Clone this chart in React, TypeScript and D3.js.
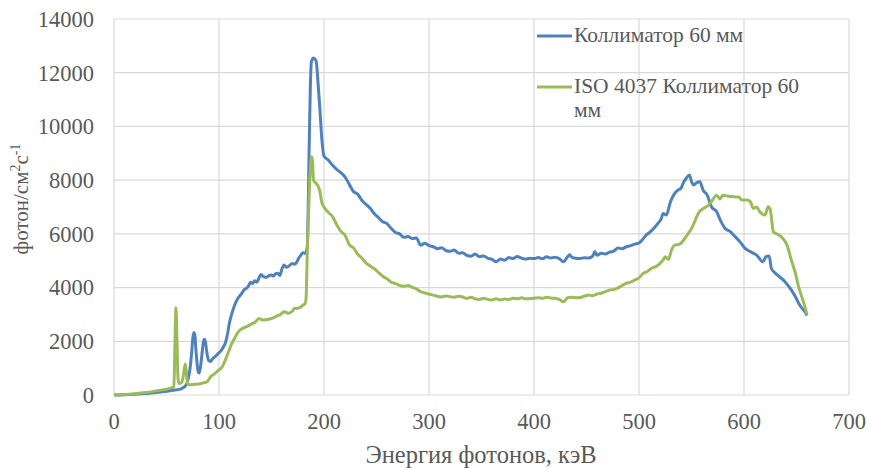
import React, { useEffect, useRef } from 'react';
import * as d3 from 'd3';

// Коллиматор 60 мм (blue)
const blueEnergy = [
  0, 10, 20, 30, 40, 46, 50, 54, 58, 62, 64, 66, 68, 70, 72, 74, 75, 76, 77, 78, 80, 81, 82, 84, 85, 86, 87, 88, 90, 92, 94, 96, 98,
  100, 102, 104, 106, 108, 110, 112, 114, 116, 118, 120, 122, 124, 126, 128, 130, 132, 134, 136, 138, 140, 142, 144, 146, 148,
  150, 152, 154, 156, 158, 160, 162, 164, 166, 168, 170, 172, 174, 176, 178, 180, 182, 184, 186, 187, 188, 190, 192, 193, 194,
  196, 198, 200, 204, 208, 212, 216, 220, 224, 228, 232, 236, 240, 244, 248, 252, 256, 260, 264, 268, 272, 276, 280, 284, 288,
  292, 296, 300, 304, 308, 312, 316, 320, 324, 328, 332, 336, 340, 344, 348, 352, 356, 360, 364, 368, 372, 376, 380, 384, 388,
  392, 396, 400, 404, 408, 412, 416, 420, 424, 428, 432, 434, 436, 440, 444, 448, 452, 456, 458, 460, 464, 468, 472, 476, 480,
  484, 488, 492, 496, 500, 503, 507, 510, 514, 518, 521, 523, 526, 530, 534, 537, 540, 542, 545, 548, 550, 552, 555, 558, 561,
  565, 569, 574, 577, 582, 587, 590, 596, 601, 606, 612, 618, 621, 624, 626, 630, 634, 639, 644, 649, 653, 658, 660,
];
const blueFlux = [
  0, 10, 30, 60, 90, 120, 140, 165, 185, 210, 230, 280, 340, 500, 870, 1600, 2100, 2330, 2250, 1700, 900, 820, 950, 1600, 1950, 2080, 2000, 1700, 1300, 1250, 1350, 1420, 1490,
  1580, 1650, 1780, 1930, 2250, 2700, 3000, 3250, 3450, 3600, 3700, 3800, 3920, 3970, 4050, 4200, 4150, 4250, 4200, 4350, 4490, 4420, 4380, 4400, 4450,
  4470, 4430, 4520, 4530, 4450, 4700, 4840, 4760, 4780, 4850, 4900, 4870, 4950, 5100, 5210, 5300, 5270, 5500, 9500, 11500, 12400, 12550, 12480, 12300, 11800,
  10700, 9500, 8900, 8750, 8560, 8400, 8280, 8120, 7850, 7580, 7480, 7250, 7100, 6950, 6750, 6600, 6450, 6380, 6200, 6050, 6000, 5870, 5900, 5830, 5850,
  5580, 5650, 5560, 5520, 5450, 5480, 5380, 5350, 5400, 5280, 5300, 5200, 5170, 5250, 5150, 5180, 5090, 5050, 4960, 5060, 5020, 5120, 5080, 5160, 5100,
  5060, 5090, 5080, 5120, 5070, 5150, 5100, 5130, 5080, 4960, 5150, 5220, 5130, 5090, 5080, 5110, 5100, 5180, 5340, 5200, 5280, 5250, 5320, 5360, 5470,
  5450, 5520, 5560, 5620, 5660, 5770, 5960, 6050, 6200, 6390, 6550, 6760, 6700, 7200, 7510, 7630, 7700, 7880, 8070, 8190, 7950, 7820, 7910, 7940, 7630,
  7440, 7010, 6820, 6550, 6200, 6080, 5960, 5710, 5460, 5340, 5210, 4960, 5150, 5180, 4720, 4530, 4400, 4220, 3970, 3660, 3350, 3100, 2960,
];

// ISO 4037 Коллиматор 60 мм (green)
const greenEnergy = [
  0, 10, 20, 30, 40, 46, 50, 54, 56, 57, 58, 59, 60, 61, 62, 64, 66, 67, 68, 69, 70, 72, 74, 76, 78, 80, 82, 84, 86, 88, 90, 92, 94, 96, 98,
  100, 102, 104, 106, 108, 110, 112, 114, 116, 118, 120, 122, 124, 126, 128, 130, 132, 134, 136, 138, 140, 142, 144, 146, 148,
  150, 152, 154, 156, 158, 160, 162, 164, 166, 168, 170, 172, 174, 176, 178, 180, 182, 183, 184, 186, 187, 188, 189, 190, 192, 194,
  196, 198, 200, 204, 208, 212, 216, 220, 224, 228, 232, 236, 240, 244, 248, 252, 256, 260, 264, 268, 272, 276, 280, 284, 288,
  292, 296, 300, 304, 308, 312, 316, 320, 324, 328, 332, 336, 340, 344, 348, 352, 356, 360, 364, 368, 372, 376, 380, 384, 388,
  392, 396, 400, 404, 408, 412, 416, 420, 424, 428, 432, 436, 440, 444, 448, 452, 456, 460, 464, 468, 472, 476, 480,
  484, 488, 492, 496, 500, 504, 508, 512, 516, 520, 523, 525, 528, 531, 534, 537, 540, 543, 546, 550, 553, 555, 558, 560,
  564, 567, 569, 574, 577, 580, 584, 590, 595, 598, 603, 606, 609, 612, 615, 620, 623, 625, 628, 633, 637, 641, 645, 649, 652, 655, 658, 660,
];
const greenFlux = [
  0, 20, 50, 90, 150, 190, 220, 260, 280, 300, 1800, 3250, 2000, 600, 430, 450, 700, 1000, 1150, 800, 420, 380, 390, 390, 410, 400, 420, 440, 460, 480, 560, 680, 740, 800, 870,
  940, 1000, 1120, 1300, 1500, 1700, 1900, 2050, 2200, 2330, 2420, 2470, 2510, 2540, 2580, 2620, 2670, 2700, 2780, 2850, 2820, 2790, 2800, 2810, 2830,
  2850, 2880, 2920, 2960, 2980, 3050, 3100, 3080, 3040, 3070, 3130, 3230, 3220, 3250, 3280, 3350, 3400, 3660, 5200, 7600, 8400, 8870, 8750, 8000, 7900, 7800,
  7600, 7150, 7000, 6800, 6650, 6350, 6100, 5950, 5600, 5480, 5250, 5100, 4920, 4800, 4700, 4560, 4420, 4330, 4200, 4150, 4080, 4050, 4080, 4010, 3950,
  3850, 3800, 3760, 3720, 3680, 3650, 3690, 3660, 3640, 3680, 3650, 3600, 3640, 3580, 3560, 3600, 3560, 3540, 3580, 3540, 3570, 3560, 3600, 3580, 3620,
  3580, 3590, 3600, 3620, 3600, 3640, 3610, 3600, 3560, 3470, 3620, 3640, 3620, 3630, 3680, 3720, 3700, 3760, 3790, 3850, 3910, 3930, 3990,
  4080, 4160, 4200, 4280, 4360, 4530, 4600, 4720, 4780, 4900, 5030, 5150, 5050, 5400, 5580, 5600, 5650, 5800, 5960, 6200, 6450, 6640, 6850, 6910,
  7010, 7100, 7200, 7440, 7300, 7440, 7410, 7380, 7370, 7260, 7260, 7200, 6950, 7000, 6820, 6700, 7010, 6900, 6080, 5960, 5830, 5580, 5030, 4530, 4030, 3660, 3290, 3000,
];

const xTicks = [0, 100, 200, 300, 400, 500, 600, 700];
const yTicks = [0, 2000, 4000, 6000, 8000, 10000, 12000, 14000];
const seriesNames = ['Коллиматор 60 мм', 'ISO 4037 Коллиматор 60', 'мм'];

const App = () => {
  const svgRef = useRef<SVGSVGElement>(null);

  useEffect(() => {
    const svg = d3.select(svgRef.current);
    svg.selectAll('*').remove();

    const font = '"Liberation Serif", "Times New Roman", serif';
    const textColor = '#595959';
    const blue = '#4F81BD';
    const green = '#9BBB59';

    const x = d3.scaleLinear().domain([0, 700]).range([114, 849]);
    const y = d3.scaleLinear().domain([0, 14000]).range([395, 19]);

    // grid
    svg.append('g')
      .selectAll('line')
      .data(yTicks)
      .enter()
      .append('line')
      .attr('x1', x(0))
      .attr('x2', x(700))
      .attr('y1', (d) => y(d))
      .attr('y2', (d) => y(d))
      .attr('stroke', '#d9d9d9')
      .attr('stroke-width', 1.2);
    svg.append('g')
      .selectAll('line')
      .data(xTicks)
      .enter()
      .append('line')
      .attr('x1', (d) => x(d))
      .attr('x2', (d) => x(d))
      .attr('y1', y(0))
      .attr('y2', y(14000))
      .attr('stroke', '#d9d9d9')
      .attr('stroke-width', 1.2);

    // tick labels
    svg.append('g')
      .selectAll('text')
      .data(yTicks)
      .enter()
      .append('text')
      .attr('x', 94)
      .attr('y', (d) => y(d))
      .attr('dy', '0.35em')
      .attr('text-anchor', 'end')
      .attr('font-family', font)
      .attr('font-size', 22.5)
      .attr('fill', textColor)
      .text((d) => String(d));
    svg.append('g')
      .selectAll('text')
      .data(xTicks)
      .enter()
      .append('text')
      .attr('x', (d) => x(d))
      .attr('y', 421)
      .attr('dy', '0.35em')
      .attr('text-anchor', 'middle')
      .attr('font-family', font)
      .attr('font-size', 22.5)
      .attr('fill', textColor)
      .text((d) => String(d));

    // axis titles
    svg.append('text')
      .attr('x', 481)
      .attr('y', 463)
      .attr('text-anchor', 'middle')
      .attr('font-family', font)
      .attr('font-size', 24.5)
      .attr('fill', textColor)
      .text('Энергия фотонов, кэВ');

    const yTitle = svg.append('text')
      .attr('transform', 'translate(28,199) rotate(-90)')
      .attr('text-anchor', 'middle')
      .attr('font-family', font)
      .attr('font-size', 21)
      .attr('fill', textColor);
    yTitle.append('tspan').text('фотон/см');
    yTitle.append('tspan').attr('font-size', 14).attr('dy', -8).text('2');
    yTitle.append('tspan').attr('dy', 8).text('с');
    yTitle.append('tspan').attr('font-size', 14).attr('dy', -8).text('-1');

    // lines
    const line = d3
      .line<[number, number]>()
      .x((d) => x(d[0]))
      .y((d) => y(d[1]))
      .curve(d3.curveMonotoneX);

    const greenPts = greenEnergy.map((e, i) => [e, greenFlux[i]] as [number, number]);
    const bluePts = blueEnergy.map((e, i) => [e, blueFlux[i]] as [number, number]);

    svg.append('path')
      .datum(bluePts)
      .attr('d', line)
      .attr('fill', 'none')
      .attr('stroke', blue)
      .attr('stroke-width', 3)
      .attr('stroke-linejoin', 'round');
    svg.append('path')
      .datum(greenPts)
      .attr('d', line)
      .attr('fill', 'none')
      .attr('stroke', green)
      .attr('stroke-width', 3)
      .attr('stroke-linejoin', 'round');

    // legend
    const legend = svg.append('g').attr('font-family', font).attr('font-size', 21.5).attr('fill', textColor);
    legend.append('line').attr('x1', 537).attr('x2', 572).attr('y1', 36).attr('y2', 36).attr('stroke', blue).attr('stroke-width', 3);
    legend.append('text').attr('x', 574).attr('y', 42).text(seriesNames[0]);
    legend.append('line').attr('x1', 537).attr('x2', 572).attr('y1', 87).attr('y2', 87).attr('stroke', green).attr('stroke-width', 3);
    legend.append('text').attr('x', 574).attr('y', 93).text(seriesNames[1]);
    legend.append('text').attr('x', 574).attr('y', 117).text(seriesNames[2]);
  }, []);

  return (
    <svg
      ref={svgRef}
      width={872}
      height={468}
      style={{ position: 'absolute', left: 0, top: 0, background: '#fff' }}
    />
  );
};

export default App;
